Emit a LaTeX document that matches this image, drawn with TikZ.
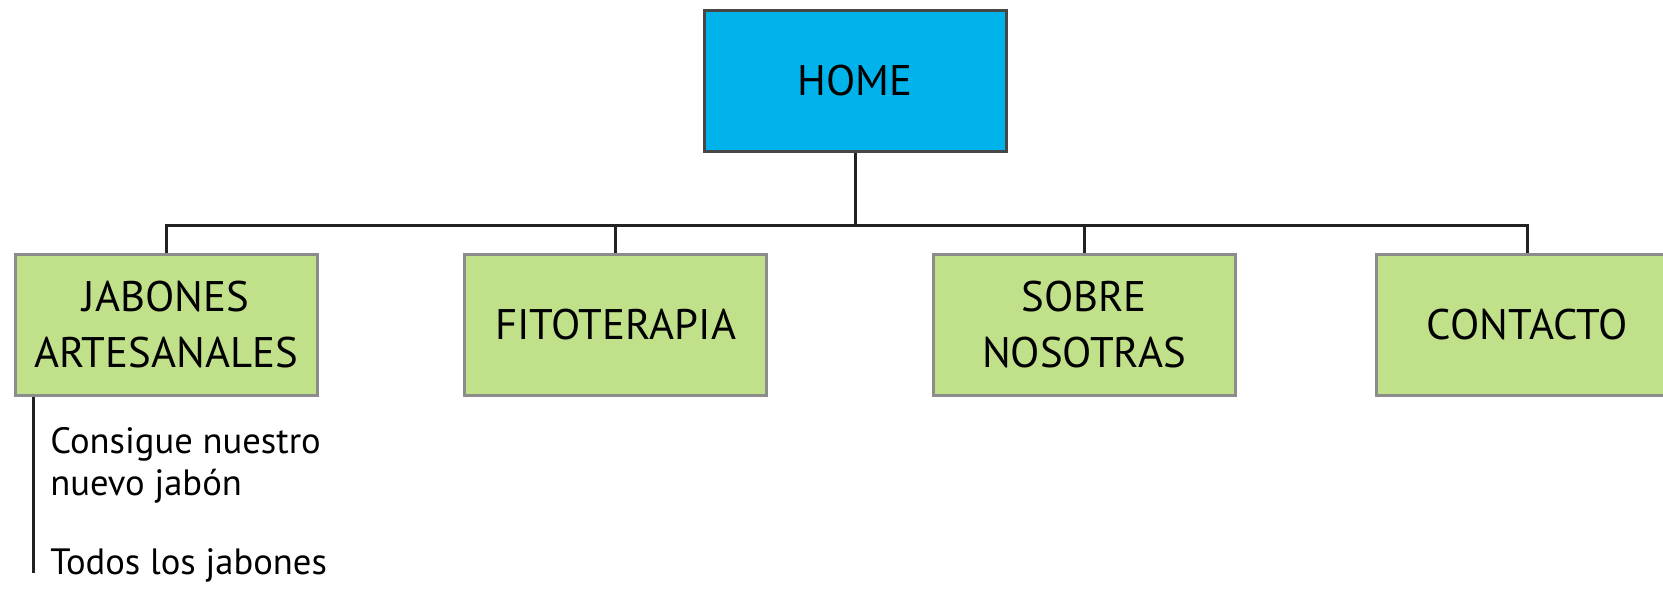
\documentclass[tikz,border=0pt]{standalone}
\usepackage{fontspec}
\setmainfont{PT Sans}
\definecolor{homeblue}{HTML}{00B4EB}
\definecolor{homeedge}{HTML}{474747}
\definecolor{boxgreen}{HTML}{C1E08A}
\definecolor{boxedge}{HTML}{8C8C8C}
\definecolor{linecol}{HTML}{222222}
\tikzset{
  homebox/.style={draw=homeedge, fill=homeblue, line width=1.5pt, minimum width=151pt, minimum height=70.5pt, inner sep=0pt, font=\fontsize{21.4}{28}\selectfont},
  menubox/.style={draw=boxedge, fill=boxgreen, line width=1.5pt, minimum width=151pt, minimum height=70.5pt, inner sep=0pt, align=center, font=\fontsize{21.4}{28}\selectfont},
  conn/.style={draw=linecol, line width=1.5pt},
  subtext/.style={anchor=north west, inner sep=0pt, align=left, font=\fontsize{18.3}{21}\selectfont}
}
\begin{document}
\begin{tikzpicture}[x=0.5pt,y=-0.5pt]
\useasboundingbox (0,0) rectangle (1663,589);
\clip (0,0) rectangle (1663,589);
\fill[white] (0,0) rectangle (1663,589);
\node[homebox] (home) at (855,80.5) {HOME};
\node[menubox] (jab) at (166,324.5) {JABONES\\ARTESANALES};
\node[menubox] (fito) at (615.5,324.5) {FITOTERAPIA};
\node[menubox] (sobre) at (1084,324.5) {SOBRE\\NOSOTRAS};
\node[menubox] (cont) at (1527,324.5) {CONTACTO};
\coordinate (busL) at (166,225);
\coordinate (busR) at (1527,225);
\draw[conn] (home.south) -- (home.south |- busL);
\draw[conn, line cap=rect] (busL) -- (busR);
\draw[conn] (busL) -- (jab.north);
\draw[conn] (fito.north |- busL) -- (fito.north);
\draw[conn] (sobre.north |- busL) -- (sobre.north);
\draw[conn] (busR) -- (cont.north);
\coordinate (subtop) at (33,395);
\coordinate (subend) at (33,573);
\draw[conn] (subtop |- jab.south) -- (subend);
\node[subtext] (sub1) at (50,427) {Consigue nuestro\\nuevo jabón};
\node[subtext] (sub2) at (50,548) {Todos los jabones};
\end{tikzpicture}
\end{document}
